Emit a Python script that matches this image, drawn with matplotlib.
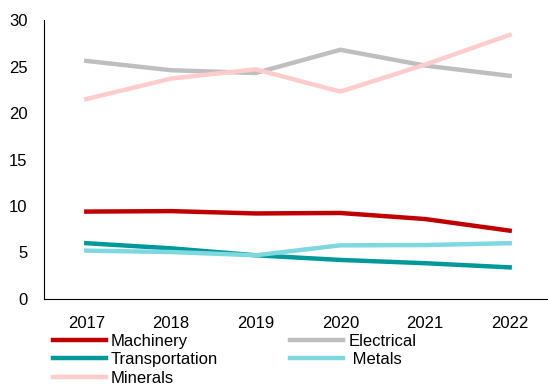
import matplotlib
matplotlib.use("Agg")
import matplotlib.pyplot as plt

plt.rcParams['font.family'] = ['Liberation Sans', 'DejaVu Sans']

years = ['2017', '2018', '2019', '2020', '2021', '2022']
machinery = [9.4, 9.45, 9.2, 9.25, 8.6, 7.35]
electrical = [25.6, 24.6, 24.3, 26.8, 25.1, 24.0]
transportation = [6.0, 5.45, 4.7, 4.2, 3.85, 3.4]
metals = [5.2, 5.05, 4.7, 5.77, 5.8, 6.0]
minerals = [21.5, 23.7, 24.7, 22.3, 25.2, 28.4]

fig = plt.figure(figsize=(5.48, 3.87), dpi=100)
ax = fig.add_axes([0.0803, 0.2274, 0.927, 0.7209])

x = range(len(years))
lw = 3.2
l_mach, = ax.plot(x, machinery, color='#C00000', lw=lw, label='Machinery')
l_elec, = ax.plot(x, electrical, color='#BFBFBF', lw=lw, label='Electrical')
l_trans, = ax.plot(x, transportation, color='#009999', lw=lw, label='Transportation')
l_met, = ax.plot(x, metals, color='#7DD8E0', lw=lw, label=' Metals')
l_min, = ax.plot(x, minerals, color='#FFCCCC', lw=lw, label='Minerals')

ax.set_xlim(-0.5, 5.5)
ax.set_ylim(0, 30)
ax.set_yticks(range(0, 31, 5))
ax.set_xticks(list(x))
ax.set_xticklabels(years)
ax.tick_params(length=0, labelsize=12)
ax.tick_params(axis='x', pad=12)
ax.tick_params(axis='y', pad=12)
ax.spines['top'].set_visible(False)
ax.spines['right'].set_visible(False)

# legend fills column by column, so order handles to read row-wise
handles = [l_mach, l_trans, l_min, l_elec, l_met]
fig.legend(handles, [h.get_label() for h in handles],
           loc='upper left', bbox_to_anchor=(0.096, 0.137), ncol=2, frameon=False,
           fontsize=12, handlelength=3.2, handletextpad=0.3, columnspacing=4.3,
           labelspacing=0.2, borderpad=0, borderaxespad=0)

fig.savefig('out.png', dpi=100)
